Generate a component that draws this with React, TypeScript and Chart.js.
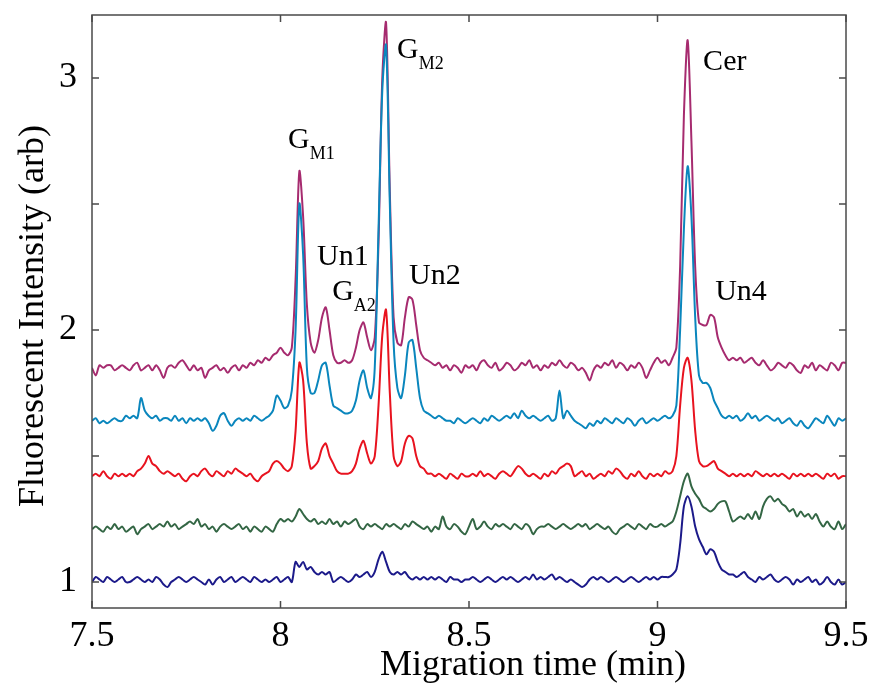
import React, { useEffect, useRef } from "react";
import { Chart, registerables } from "chart.js";

Chart.register(...registerables);

// Migration time grid: 7.50 .. 9.50 min, step 0.01
const timeStart = 7.5;
const timeStep = 0.01;

const purpleTrace = [
  1.85, 1.82, 1.86, 1.85, 1.86, 1.86, 1.84, 1.85, 1.86, 1.85,
  1.84, 1.86, 1.87, 1.84, 1.85, 1.86, 1.84, 1.86, 1.84, 1.81,
  1.85, 1.86, 1.85, 1.87, 1.88, 1.86, 1.84, 1.86, 1.84, 1.85,
  1.81, 1.84, 1.85, 1.86, 1.84, 1.85, 1.83, 1.85, 1.86, 1.84,
  1.86, 1.85, 1.87, 1.86, 1.88, 1.87, 1.89, 1.88, 1.90, 1.91,
  1.93, 1.91, 1.90, 1.93, 2.20, 2.63, 2.45, 2.10, 1.95, 1.91,
  1.96, 2.05, 2.09, 2.00, 1.90, 1.87, 1.87, 1.88, 1.87, 1.88,
  1.93, 2.00, 2.03, 1.97, 1.92, 1.97, 2.35, 3.00, 3.22, 2.55,
  2.05, 1.95, 1.94, 2.05, 2.13, 2.12, 2.02, 1.92, 1.89, 1.88,
  1.87, 1.86, 1.87, 1.85, 1.86, 1.84, 1.86, 1.85, 1.83, 1.86,
  1.85, 1.86, 1.84, 1.87, 1.88, 1.86, 1.85, 1.87, 1.84, 1.85,
  1.87, 1.86, 1.84, 1.85, 1.87, 1.86, 1.88, 1.85, 1.86, 1.84,
  1.86, 1.85, 1.87, 1.86, 1.88, 1.86, 1.85, 1.87, 1.86, 1.84,
  1.85, 1.83, 1.80, 1.84, 1.86, 1.85, 1.87, 1.86, 1.88, 1.85,
  1.87, 1.86, 1.84, 1.86, 1.85, 1.87, 1.85, 1.81, 1.84, 1.87,
  1.89, 1.87, 1.88, 1.86, 1.89, 1.93, 2.25, 2.85, 3.15, 2.75,
  2.25, 2.03, 2.02, 2.02, 2.06, 2.05, 1.97, 1.93, 1.90, 1.88,
  1.89, 1.88, 1.89, 1.87, 1.88, 1.89, 1.87, 1.86, 1.88, 1.86,
  1.84, 1.85, 1.87, 1.86, 1.85, 1.87, 1.86, 1.84, 1.83, 1.86,
  1.85, 1.87, 1.84, 1.86, 1.85, 1.84, 1.87, 1.86, 1.84, 1.87,
  1.87,
];

const blueTrace = [
  1.64, 1.65, 1.63, 1.64, 1.63, 1.64, 1.65, 1.64, 1.64, 1.66,
  1.65, 1.66, 1.65, 1.73, 1.68, 1.66, 1.65, 1.66, 1.64, 1.65,
  1.65, 1.64, 1.66, 1.64, 1.65, 1.63, 1.65, 1.64, 1.65, 1.64,
  1.65, 1.63, 1.60, 1.62, 1.66, 1.67, 1.64, 1.62, 1.64, 1.65,
  1.64, 1.65, 1.64, 1.66, 1.65, 1.64, 1.65, 1.66, 1.68, 1.74,
  1.72, 1.69, 1.70, 1.76, 2.00, 2.50, 2.30, 1.85, 1.75, 1.75,
  1.80, 1.86, 1.87, 1.78, 1.70, 1.69, 1.68, 1.67, 1.67, 1.68,
  1.72, 1.80, 1.84, 1.77, 1.73, 1.85, 2.40, 2.95, 3.13, 2.50,
  1.95, 1.77, 1.73, 1.82, 1.95, 1.96, 1.85, 1.73, 1.68, 1.67,
  1.66, 1.65, 1.66, 1.65, 1.64, 1.64, 1.63, 1.65, 1.64, 1.63,
  1.64, 1.65, 1.64, 1.63, 1.65, 1.64, 1.66, 1.65, 1.64, 1.65,
  1.66, 1.65, 1.67, 1.65, 1.68, 1.66, 1.65, 1.66, 1.65, 1.64,
  1.65, 1.66, 1.64, 1.65, 1.76, 1.65, 1.68, 1.66, 1.64, 1.63,
  1.62, 1.61, 1.63, 1.62, 1.64, 1.63, 1.65, 1.64, 1.63, 1.65,
  1.64, 1.63, 1.65, 1.64, 1.62, 1.64, 1.65, 1.63, 1.64, 1.65,
  1.64, 1.65, 1.66, 1.65, 1.66, 1.70, 2.00, 2.40, 2.65, 2.45,
  2.05, 1.82, 1.79, 1.79, 1.77, 1.72, 1.69, 1.66, 1.65, 1.66,
  1.65, 1.66, 1.64, 1.65, 1.67, 1.65, 1.66, 1.64, 1.65, 1.66,
  1.65, 1.64, 1.65, 1.63, 1.64, 1.65, 1.63, 1.62, 1.64, 1.62,
  1.61, 1.63, 1.65, 1.64, 1.63, 1.66, 1.64, 1.62, 1.65, 1.64,
  1.65,
];

const redTrace = [
  1.42, 1.43, 1.42, 1.44, 1.42, 1.41, 1.43, 1.42, 1.43, 1.42,
  1.43, 1.42, 1.44, 1.45, 1.47, 1.50, 1.47, 1.46, 1.44, 1.43,
  1.44, 1.43, 1.42, 1.43, 1.41, 1.40, 1.42, 1.43, 1.42, 1.44,
  1.45, 1.43, 1.42, 1.44, 1.43, 1.42, 1.44, 1.43, 1.45, 1.44,
  1.43, 1.42, 1.43, 1.41, 1.40, 1.42, 1.43, 1.44, 1.47, 1.48,
  1.47, 1.45, 1.44, 1.46, 1.60, 1.87, 1.80, 1.55, 1.45, 1.46,
  1.48, 1.53, 1.55, 1.50, 1.47, 1.44, 1.43, 1.43, 1.43, 1.44,
  1.47, 1.53, 1.56, 1.51, 1.47, 1.50, 1.70, 1.98, 2.08, 1.75,
  1.50, 1.46, 1.48, 1.55, 1.58, 1.57, 1.50, 1.46, 1.45, 1.43,
  1.43, 1.42, 1.43, 1.42, 1.41, 1.43, 1.42, 1.41, 1.43, 1.42,
  1.42, 1.43, 1.42, 1.44, 1.42, 1.43, 1.42, 1.41, 1.43, 1.44,
  1.43, 1.42, 1.44, 1.46, 1.45, 1.43, 1.42, 1.43, 1.42, 1.41,
  1.43, 1.42, 1.44, 1.43, 1.45, 1.46, 1.47, 1.46, 1.42, 1.43,
  1.44, 1.42, 1.43, 1.41, 1.42, 1.43, 1.42, 1.44, 1.43, 1.45,
  1.44, 1.42, 1.41, 1.43, 1.42, 1.44, 1.42, 1.41, 1.43, 1.42,
  1.43, 1.42, 1.44, 1.43, 1.44, 1.50, 1.70, 1.85, 1.89, 1.80,
  1.60, 1.48, 1.46, 1.46, 1.47, 1.48, 1.45, 1.44, 1.43, 1.42,
  1.43, 1.42, 1.43, 1.42, 1.43, 1.42, 1.44, 1.43, 1.42, 1.43,
  1.42, 1.43, 1.42, 1.43, 1.42, 1.41, 1.43, 1.42, 1.43, 1.42,
  1.43, 1.42, 1.43, 1.42, 1.41, 1.43, 1.42, 1.43, 1.41, 1.42,
  1.42,
];

const greenTrace = [
  1.21, 1.22, 1.21, 1.20, 1.22, 1.21, 1.23, 1.21, 1.22, 1.20,
  1.21, 1.22, 1.19, 1.21, 1.22, 1.23, 1.21, 1.22, 1.23, 1.22,
  1.24, 1.22, 1.23, 1.21, 1.22, 1.23, 1.24, 1.23, 1.25, 1.22,
  1.23, 1.21, 1.22, 1.20, 1.22, 1.23, 1.22, 1.21, 1.22, 1.23,
  1.21, 1.22, 1.20, 1.22, 1.21, 1.20, 1.22, 1.21, 1.20, 1.23,
  1.25, 1.24, 1.25, 1.24, 1.26, 1.29, 1.27, 1.25, 1.24, 1.25,
  1.23, 1.24, 1.23, 1.25, 1.23, 1.24, 1.22, 1.24, 1.23, 1.24,
  1.25, 1.22, 1.21, 1.23, 1.22, 1.23, 1.22, 1.21, 1.23, 1.22,
  1.23, 1.22, 1.21, 1.23, 1.22, 1.24, 1.23, 1.22, 1.21, 1.22,
  1.20, 1.22, 1.21, 1.26, 1.22, 1.21, 1.23, 1.22, 1.20, 1.19,
  1.22, 1.25, 1.21, 1.22, 1.24, 1.22, 1.21, 1.23, 1.22, 1.23,
  1.22, 1.21, 1.23, 1.22, 1.21, 1.23, 1.22, 1.19, 1.21, 1.22,
  1.22, 1.23, 1.22, 1.21, 1.22, 1.23, 1.22, 1.21, 1.22, 1.23,
  1.22, 1.23, 1.21, 1.22, 1.23, 1.22, 1.21, 1.22, 1.20, 1.19,
  1.21, 1.22, 1.23, 1.22, 1.21, 1.23, 1.22, 1.21, 1.23, 1.22,
  1.22, 1.23, 1.22, 1.23, 1.24, 1.28, 1.34, 1.40, 1.43, 1.38,
  1.35, 1.33, 1.30, 1.29, 1.28, 1.29, 1.31, 1.32, 1.32, 1.28,
  1.24, 1.25, 1.26, 1.25, 1.27, 1.25, 1.28, 1.25, 1.30, 1.33,
  1.34, 1.32, 1.33, 1.31, 1.30, 1.28, 1.29, 1.26, 1.28, 1.26,
  1.27, 1.25, 1.27, 1.24, 1.22, 1.24, 1.22, 1.21, 1.24, 1.21,
  1.23,
];

const navyTrace = [
  1.00, 1.02, 1.01, 1.00, 1.02, 1.01, 1.00, 1.01, 1.02, 1.00,
  1.00, 1.01, 1.02, 1.01, 1.00, 1.01, 1.00, 1.02, 1.01, 0.99,
  0.98, 1.00, 1.01, 1.02, 1.01, 1.00, 1.01, 1.02, 1.01, 1.00,
  0.99, 1.01, 0.99, 1.01, 1.02, 1.00, 1.01, 1.02, 1.00, 1.01,
  1.02, 1.01, 1.00, 1.02, 1.01, 1.00, 1.01, 1.00, 1.01, 1.02,
  1.00, 1.01, 1.02, 1.00, 1.08, 1.06, 1.08, 1.05, 1.06, 1.04,
  1.03, 1.04, 1.03, 1.04, 1.00, 1.01, 1.02, 1.01, 1.00, 1.01,
  1.03, 1.02, 1.03, 1.04, 1.02, 1.04, 1.09, 1.12, 1.08, 1.04,
  1.03, 1.04, 1.03, 1.04, 1.02, 1.01, 1.02, 1.01, 1.02, 1.01,
  1.02, 1.01, 1.02, 1.01, 1.00, 1.02, 1.01, 1.01, 1.00, 1.01,
  1.01, 1.02, 1.01, 1.00, 1.01, 1.02, 1.01, 1.00, 1.01, 1.02,
  1.01, 1.02, 1.01, 1.00, 1.01, 1.02, 1.01, 1.03, 1.01, 1.02,
  1.01, 1.02, 1.03, 1.01, 1.02, 1.01, 1.00, 1.01, 1.00, 0.99,
  0.98, 0.99, 1.01, 1.02, 1.01, 1.02, 1.01, 1.00, 1.01, 1.02,
  1.01, 1.00, 1.01, 1.02, 1.01, 1.00, 1.01, 1.02, 1.01, 1.02,
  1.01, 1.02, 1.02, 1.02, 1.03, 1.05, 1.15, 1.30, 1.34, 1.30,
  1.22, 1.17, 1.14, 1.11, 1.13, 1.12, 1.08, 1.05, 1.04, 1.03,
  1.03, 1.02, 1.03, 1.04, 1.02, 1.01, 1.00, 1.02, 1.01, 1.02,
  1.03, 1.01, 1.00, 1.01, 1.02, 1.01, 0.99, 1.01, 1.00, 1.01,
  1.02, 1.00, 1.01, 0.99, 1.00, 1.02, 1.00, 0.99, 1.01, 0.99,
  1.00,
];

const xTicks = [7.5, 8, 8.5, 9, 9.5];
const yTicksLabelled = [1, 2, 3];
const yTickMarks = [1, 1.5, 2, 2.5, 3];

// Peak labels: main text, subscript, time anchor, intensity anchor
const peakNames = ["G", "Un1", "G", "G", "Un2", "Cer", "Un4"];
const peakSubs = ["M1", "", "A2", "M2", "", "", ""];
const peakTimes = [8.02, 8.097, 8.137, 8.309, 8.341, 9.121, 9.153];
const peakLevels = [2.722, 2.258, 2.119, 3.079, 2.183, 3.032, 2.119];

const FONT = "'Liberation Serif', 'Times New Roman', serif";

function toPoints(values: number[]) {
  return values.map((v, i) => ({ x: +(timeStart + i * timeStep).toFixed(2), y: v }));
}

const framePlugin = {
  id: "frame",
  afterDraw(chart: any) {
    const { ctx, chartArea, scales } = chart;
    const { left, right, top, bottom } = chartArea;
    const xs = scales.x;
    const ys = scales.y;
    ctx.save();
    ctx.strokeStyle = "#4a4a4a";
    ctx.lineWidth = 1.5;
    ctx.strokeRect(left, top, right - left, bottom - top);
    const tl = 7;
    ctx.beginPath();
    xTicks.forEach((t) => {
      const px = xs.getPixelForValue(t);
      ctx.moveTo(px, bottom);
      ctx.lineTo(px, bottom - tl);
      ctx.moveTo(px, top);
      ctx.lineTo(px, top + tl);
    });
    yTickMarks.forEach((v) => {
      const py = ys.getPixelForValue(v);
      ctx.moveTo(left, py);
      ctx.lineTo(left + tl, py);
      ctx.moveTo(right, py);
      ctx.lineTo(right - tl, py);
    });
    ctx.stroke();

    // peak labels
    ctx.fillStyle = "#000";
    ctx.textBaseline = "alphabetic";
    ctx.textAlign = "left";
    peakNames.forEach((name, i) => {
      const px = xs.getPixelForValue(peakTimes[i]);
      const py = ys.getPixelForValue(peakLevels[i]);
      ctx.font = `30px ${FONT}`;
      ctx.fillText(name, px, py);
      const w = ctx.measureText(name).width;
      if (peakSubs[i]) {
        ctx.font = `18px ${FONT}`;
        ctx.fillText(peakSubs[i], px + w, py + 11);
      }
    });

    // axis titles
    ctx.font = `36px ${FONT}`;
    ctx.textAlign = "center";
    ctx.fillText("Migration time (min)", 533, 675);
    ctx.save();
    ctx.translate(43, 316);
    ctx.rotate(-Math.PI / 2);
    ctx.fillText("Fluorescent Intensity (arb)", 0, 0);
    ctx.restore();
    ctx.restore();
  },
};

export default function App() {
  const ref = useRef<HTMLCanvasElement>(null);
  useEffect(() => {
    document.body.style.margin = "0";
    const canvas = ref.current;
    if (!canvas) return;
    const series = [
      { label: "red", data: redTrace, color: "#e8131f" },
      { label: "blue", data: blueTrace, color: "#0a86bd" },
      { label: "purple", data: purpleTrace, color: "#a62b6f" },
      { label: "navy", data: navyTrace, color: "#1c1a8a" },
      { label: "green", data: greenTrace, color: "#336644" },
    ];
    const chart = new Chart(canvas, {
      type: "line",
      data: {
        datasets: series.map((s) => ({
          label: s.label,
          data: toPoints(s.data),
          borderColor: s.color,
          backgroundColor: s.color,
          borderWidth: 2,
          pointRadius: 0,
          tension: 0.3,
          fill: false,
        })),
      },
      options: {
        responsive: false,
        animation: false,
        events: [],
        layout: { padding: { top: 15, right: 34, left: 0, bottom: 0 } },
        plugins: { legend: { display: false }, tooltip: { enabled: false } },
        scales: {
          x: {
            type: "linear",
            min: 7.5,
            max: 9.5,
            afterFit: (s: any) => {
              s.height = 88;
              s.paddingLeft = 0;
              s.paddingRight = 0;
            },
            afterBuildTicks: (s: any) => {
              s.ticks = xTicks.map((v) => ({ value: v }));
            },
            ticks: {
              callback: (v: any) => String(v),
              font: { family: FONT, size: 36 },
              color: "#000",
              padding: 7,
              maxRotation: 0,
              autoSkip: false,
            },
            grid: { display: false, drawTicks: false },
            border: { display: false },
          },
          y: {
            type: "linear",
            min: 0.897,
            max: 3.25,
            afterFit: (s: any) => {
              s.width = 92;
              s.paddingTop = 0;
              s.paddingBottom = 0;
            },
            afterBuildTicks: (s: any) => {
              s.ticks = yTicksLabelled.map((v) => ({ value: v }));
            },
            ticks: {
              callback: (v: any) => String(v),
              font: { family: FONT, size: 36 },
              color: "#000",
              padding: 15,
            },
            grid: { display: false, drawTicks: false },
            border: { display: false },
          },
        },
      },
      plugins: [framePlugin],
    });
    return () => chart.destroy();
  }, []);
  return (
    <div style={{ width: 880, height: 696 }}>
      <canvas ref={ref} width={880} height={696} style={{ display: "block" }} />
    </div>
  );
}
